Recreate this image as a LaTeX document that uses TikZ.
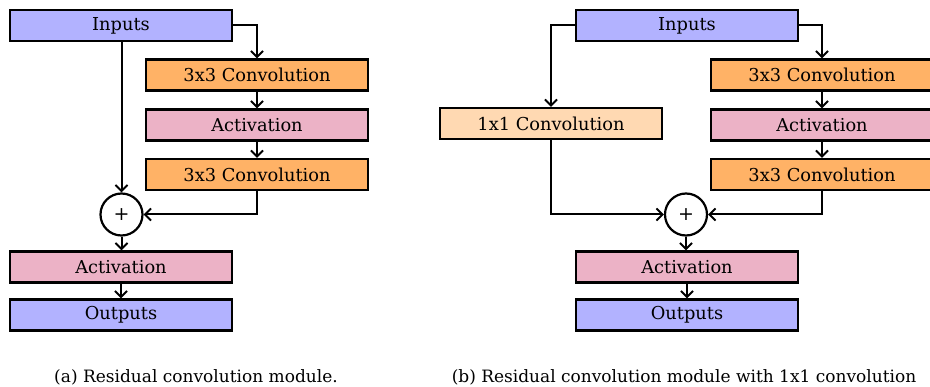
\documentclass[tikz,border=0pt]{standalone}
\usepackage{fontspec}
\setmainfont{DejaVu Serif}
\usetikzlibrary{arrows.meta}
\begin{document}
\begin{tikzpicture}[x=1pt,y=1pt,
  block/.style={draw, line width=2.2pt, minimum width=222pt, minimum height=31pt,
    inner sep=0pt, font=\fontsize{17.8}{21}\selectfont},
  inblock/.style={block, fill=blue!30},
  convblock/.style={block, fill=orange!60},
  actblock/.style={block, fill=purple!30},
  oneblock/.style={block, fill=orange!30},
  sumnode/.style={draw, circle, line width=2.2pt, minimum size=42pt, inner sep=0pt,
    font=\fontsize{19}{21}\selectfont},
  link/.style={-{Straight Barb[length=6pt, width=12pt, line width=2pt]}, line width=2pt},
  caption/.style={anchor=base, font=\fontsize{17}{20}\selectfont}]
\useasboundingbox (0,0) rectangle (930,-387);

% (a) plain residual module
\node[inblock]   (inA)   at (121,-25.5) {Inputs};
\node[convblock] (c1A)   at (257,-75)   {3x3 Convolution};
\node[actblock]  (actA)  at (257,-125)  {Activation};
\node[convblock] (c2A)   at (257,-174.5){3x3 Convolution};
\node[sumnode]   (sumA)  at (121.5,-214.5) {+};
\node[actblock]  (act2A) at (121,-267)  {Activation};
\node[inblock]   (outA)  at (121,-315)  {Outputs};

\draw[link] (inA.south -| sumA) -- (sumA);
\draw[link] (inA.east) -| (c1A.north);
\draw[link] (c1A) -- (actA);
\draw[link] (actA) -- (c2A);
\draw[link] (c2A.south) |- (sumA.east);
\draw[link] (sumA) -- (act2A.north -| sumA);
\draw[link] (act2A) -- (outA);

% (b) residual module with 1x1 projection
\node[inblock]   (inB)   at (687,-25.5) {Inputs};
\node[oneblock]  (c11B)  at (551,-123.5){1x1 Convolution};
\node[convblock] (c1B)   at (822,-75)   {3x3 Convolution};
\node[actblock]  (actB)  at (822,-125)  {Activation};
\node[convblock] (c2B)   at (822,-174.5){3x3 Convolution};
\node[sumnode]   (sumB)  at (686,-214.5){+};
\node[actblock]  (act2B) at (687,-267)  {Activation};
\node[inblock]   (outB)  at (687,-315)  {Outputs};

\draw[link] (inB.west) -| (c11B.north);
\draw[link] (inB.east) -| (c1B.north);
\draw[link] (c1B) -- (actB);
\draw[link] (actB) -- (c2B);
\draw[link] (c11B.south) |- (sumB.west);
\draw[link] (c2B.south) |- (sumB.east);
\draw[link] (sumB) -- (act2B.north -| sumB);
\draw[link] (act2B) -- (outB);

% sub-captions
\node[caption] (capA) at (196,-383) {(a) Residual convolution module.};
\node[caption] (capB) at (684,-383) {(b) Residual convolution module with 1x1 convolution};
\end{tikzpicture}
\end{document}
